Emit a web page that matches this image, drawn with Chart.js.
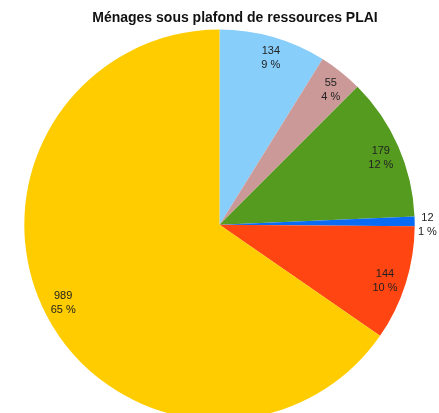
<!DOCTYPE html>
<html>
<head>
<meta charset="utf-8">
<script src="https://cdn.jsdelivr.net/npm/chart.js@4"></script>
<style>
  html, body { margin: 0; padding: 0; background: #fff; overflow: hidden; }
  #wrap { width: 439px; height: 420px; }
</style>
</head>
<body>
<div id="wrap"><canvas id="chart"></canvas></div>
<script>
const title = "Ménages sous plafond de ressources PLAI";
const labels = ["Catégorie 1", "Catégorie 2", "Catégorie 3", "Catégorie 4", "Catégorie 5", "Catégorie 6"];
const values = [134, 55, 179, 12, 144, 989];
const colors = ["#87CEFA", "#CC9999", "#559B1F", "#0A6CF5", "#FF4512", "#FFCC00"];

const total = values.reduce((a, b) => a + b, 0);

// title sits a bit right of the pie centre in the original, so draw it by hand
const titlePlugin = {
  id: "offsetTitle",
  afterDraw(chart) {
    const ctx = chart.ctx;
    ctx.save();
    ctx.font = "bold 14px 'Liberation Sans', Arial, sans-serif";
    ctx.fillStyle = "#111";
    ctx.textAlign = "center";
    ctx.textBaseline = "middle";
    ctx.fillText(title, 235, 18);
    ctx.restore();
  }
};

// draws "value / pct %" inside each slice, outside for the tiny ones
const sliceLabels = {
  id: "sliceLabels",
  afterDatasetsDraw(chart) {
    const ctx = chart.ctx;
    const meta = chart.getDatasetMeta(0);
    ctx.save();
    ctx.font = "11px 'Liberation Sans', Arial, sans-serif";
    ctx.fillStyle = "#222";
    ctx.textAlign = "center";
    ctx.textBaseline = "middle";
    meta.data.forEach((arc, i) => {
      const v = values[i];
      const share = v / total;
      const mid = (arc.startAngle + arc.endAngle) / 2 + 0.02;
      const r = share < 0.03 ? arc.outerRadius * 1.065 : arc.outerRadius * 0.895;
      const x = arc.x + Math.cos(mid) * r;
      const y = arc.y + Math.sin(mid) * r;
      ctx.fillText(String(v), x, y - 7);
      ctx.fillText(Math.round(share * 100) + " %", x, y + 7);
    });
    ctx.restore();
  }
};

new Chart(document.getElementById("chart"), {
  type: "pie",
  data: {
    labels: labels,
    datasets: [{
      data: values,
      backgroundColor: colors,
      borderWidth: 0
    }]
  },
  options: {
    responsive: true,
    maintainAspectRatio: false,
    animation: false,
    layout: { padding: { top: 29.6 } },
    plugins: {
      legend: { display: false },
      tooltip: { enabled: false },
      title: { display: false }
    }
  },
  plugins: [sliceLabels, titlePlugin]
});
</script>
</body>
</html>
